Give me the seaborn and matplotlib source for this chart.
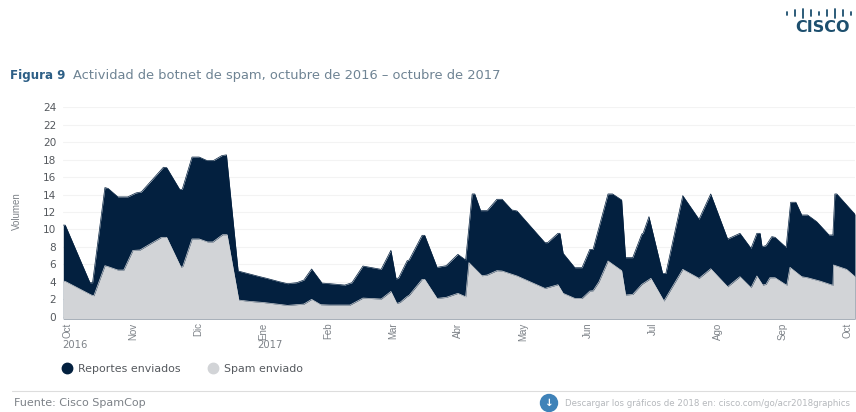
import matplotlib.pyplot as plt
import pandas as pd
import seaborn as sns
from matplotlib.lines import Line2D
from matplotlib.patches import Circle

# months since October 2016
reportes_x = [-0.07, -0.04, 0.34, 0.38, 0.57, 0.62, 0.77, 0.92, 1.05, 1.13, 1.47, 1.52, 1.72, 1.76, 1.91, 2.02,
              2.14, 2.24, 2.37, 2.44, 2.62, 2.95, 3.06, 3.26, 3.38, 3.52, 3.63, 3.75, 3.91, 4.03, 4.26, 4.37,
              4.54, 4.82, 4.97, 5.05, 5.09, 5.22, 5.25, 5.45, 5.49, 5.68, 5.82, 6.0, 6.12, 6.22, 6.26, 6.35,
              6.45, 6.6, 6.68, 6.83, 6.91, 7.34, 7.38, 7.54, 7.57, 7.62, 7.8, 7.91, 8.03, 8.08, 8.31, 8.38,
              8.52, 8.58, 8.69, 8.83, 8.85, 8.94, 9.15, 9.2, 9.46, 9.71, 9.89, 10.15, 10.34, 10.51, 10.6, 10.65,
              10.68, 10.74, 10.83, 10.88, 11.05, 11.12, 11.2, 11.29, 11.38, 11.52, 11.71, 11.77, 11.8, 11.83, 12.11]
reportes = [10.5, 10.5, 3.9, 3.9, 14.8, 14.7, 13.73, 13.73, 14.19, 14.3, 17.13, 17.09, 14.6, 14.6, 18.3, 18.3,
            17.9, 17.9, 18.47, 18.55, 5.24, 4.6, 4.4, 4.0, 3.79, 3.9, 4.2, 5.47, 3.86, 3.79, 3.63, 3.9,
            5.81, 5.43, 7.61, 4.32, 4.47, 6.42, 6.5, 9.33, 9.33, 5.66, 5.85, 7.15, 6.5, 14.07, 14.07, 12.16,
            12.16, 13.46, 13.46, 12.24, 12.12, 8.49, 8.49, 9.56, 9.56, 7.27, 5.62, 5.62, 7.72, 7.72, 14.07, 14.07,
            13.38, 6.77, 6.77, 9.48, 9.56, 11.47, 4.97, 4.97, 13.88, 11.17, 14.07, 8.91, 9.56, 7.84, 9.56, 9.56,
            8.03, 8.15, 9.18, 9.1, 7.95, 13.12, 13.12, 11.66, 11.66, 10.9, 9.37, 9.37, 14.07, 14.07, 11.74]

spam_x = [-0.07, -0.04, 0.36, 0.40, 0.57, 0.62, 0.77, 0.86, 1.0, 1.11, 1.29, 1.44, 1.52, 1.74, 1.77, 1.91, 2.02,
          2.15, 2.23, 2.38, 2.45, 2.63, 2.8, 3.0, 3.26, 3.38, 3.63, 3.75, 3.89, 4.03, 4.34, 4.54, 4.82, 4.97,
          5.06, 5.11, 5.22, 5.25, 5.45, 5.49, 5.68, 5.82, 6.0, 6.12, 6.17, 6.37, 6.45, 6.6, 6.68, 6.91, 7.34,
          7.54, 7.62, 7.8, 7.91, 8.03, 8.08, 8.17, 8.31, 8.52, 8.58, 8.69, 8.83, 8.97, 9.17, 9.46, 9.71, 9.89,
          10.15, 10.34, 10.51, 10.6, 10.69, 10.74, 10.8, 10.88, 11.06, 11.11, 11.29, 11.38, 11.57, 11.77, 11.78,
          11.98, 12.11]
spam = [4.09, 4.05, 2.49, 2.41, 5.85, 5.74, 5.35, 5.35, 7.6, 7.65, 8.45, 9.1, 9.1, 5.66, 5.8, 8.91, 8.91,
        8.57, 8.57, 9.4, 9.4, 1.91, 1.76, 1.64, 1.41, 1.3, 1.45, 1.99, 1.38, 1.34, 1.34, 2.14, 2.03, 2.9,
        1.53, 1.64, 2.33, 2.45, 4.28, 4.28, 2.1, 2.22, 2.68, 2.29, 6.2, 4.7, 4.78, 5.28, 5.24, 4.67, 3.25,
        3.67, 2.68, 2.1, 2.1, 2.94, 2.98, 4.0, 6.39, 5.28, 2.49, 2.56, 3.71, 4.4, 1.8, 5.43, 4.4, 5.5,
        3.44, 4.59, 3.33, 4.67, 3.63, 3.71, 4.47, 4.47, 3.6, 5.66, 4.59, 4.47, 4.09, 3.6, 5.93,
        5.43, 4.59]

meses = ["Oct", "Nov", "Dic", "Ene", "Feb", "Mar", "Abr", "May", "Jun", "Jul", "Ago", "Sep", "Oct"]
y_ticks = list(range(0, 25, 2))

NAVY = "#03203f"
GREY = "#d2d4d7"
TEXT = "#7d8288"

sns.set_theme(style="white")
plt.rcParams["font.family"] = ["Liberation Sans", "DejaVu Sans"]

W, H = 856, 412
fig = plt.figure(figsize=(W / 100, H / 100), dpi=100)
ax = fig.add_axes([63.3 / W, 1 - 319 / H, (855 - 63.3) / W, (319 - 107.3) / H])
y_base = -0.26

df_rep = pd.DataFrame({"mes": reportes_x, "valor": reportes})
df_spam = pd.DataFrame({"mes": spam_x, "valor": spam})

ax.fill_between(df_rep["mes"], y_base, df_rep["valor"], color=NAVY, lw=0, zorder=2)
sns.lineplot(data=df_rep, x="mes", y="valor", color=NAVY, lw=0.5, ax=ax, zorder=2)
ax.fill_between(df_spam["mes"], y_base, df_spam["valor"], color=GREY, lw=0, zorder=3)
sns.lineplot(data=df_spam, x="mes", y="valor", color=GREY, lw=0.5, ax=ax, zorder=3)

ax.set_xlim(-0.07, 12.11)
ax.set_ylim(y_base, 24)
ax.set_xlabel("")
ax.set_ylabel("")
sns.despine(ax=ax, left=True, bottom=True)
ax.grid(axis="y", color="#f3f3f3", lw=0.8, zorder=0)
ax.set_axisbelow(True)

ax.set_yticks(y_ticks)
ax.set_yticklabels(y_ticks, fontsize=7.6, color="#55595e", family="DejaVu Sans")
ax.set_xticks(range(len(meses)))
ax.set_xticklabels(meses, rotation=90, fontsize=7, color=TEXT)
ax.tick_params(axis="both", length=0)
ax.tick_params(axis="x", pad=2.5)
ax.tick_params(axis="y", pad=5)


def txt(x, y, s, **kw):
    kw.setdefault("va", "center")
    fig.text(x / W, 1 - y / H, s, **kw)


txt(17, 211, "Volumen", rotation=90, fontsize=7, color=TEXT, ha="center")
txt(62, 345, "2016", fontsize=7.2, color=TEXT, family="DejaVu Sans")
txt(257, 345, "2017", fontsize=7.2, color=TEXT, family="DejaVu Sans")

# title
txt(10, 75, "Figura 9", fontsize=8.6, color="#2d5f86", fontweight="bold", family="DejaVu Sans")
txt(73, 75, "Actividad de botnet de spam, octubre de 2016 – octubre de 2017", fontsize=9.35, color="#6f8494", family="DejaVu Sans")

# legend
handles = [Line2D([], [], ls="", marker="o", ms=7.5, color=NAVY), Line2D([], [], ls="", marker="o", ms=7.5, color=GREY)]
fig.legend(handles, ["Reportes enviados", "Spam enviado"], loc="center left", bbox_to_anchor=(46 / W, 1 - 369 / H),
           ncol=2, frameon=False, handletextpad=0.0, columnspacing=2.0,
           prop={"family": "DejaVu Sans", "size": 7.9}, labelcolor="#55595e")

# footer
fig.add_artist(Line2D([12 / W, 1], [1 - 391 / H] * 2, color="#dddddd", lw=0.8))
txt(14, 403, "Fuente: Cisco SpamCop", fontsize=8, color=TEXT, family="DejaVu Sans")
txt(565, 403, "Descargar los gráficos de 2018 en: cisco.com/go/acr2018graphics", fontsize=6.25, color="#b5b8bc", family="DejaVu Sans")
fig.add_artist(Circle((549, H - 403), 8.5, color="#3f82b8", transform=None))
txt(549, 403, "↓", fontsize=7.5, color="white", ha="center", family="DejaVu Sans", fontweight="bold")

# cisco logo
logo_x = [787, 795, 803, 811, 819, 827, 835, 843, 851]
logo_h = [1.5, 3, 4.5, 3, 1.5, 3, 4.5, 3, 1.5]
for x, h in zip(logo_x, logo_h):
    fig.add_artist(Line2D([x / W] * 2, [1 - (13 + h) / H, 1 - (13 - h) / H], color="#1d4f6e", lw=1.3))
txt(823, 28, "CISCO", fontsize=11.5, color="#1d4f6e", fontweight="bold", ha="center", family="DejaVu Sans")

fig.savefig("out.png", dpi=100)
